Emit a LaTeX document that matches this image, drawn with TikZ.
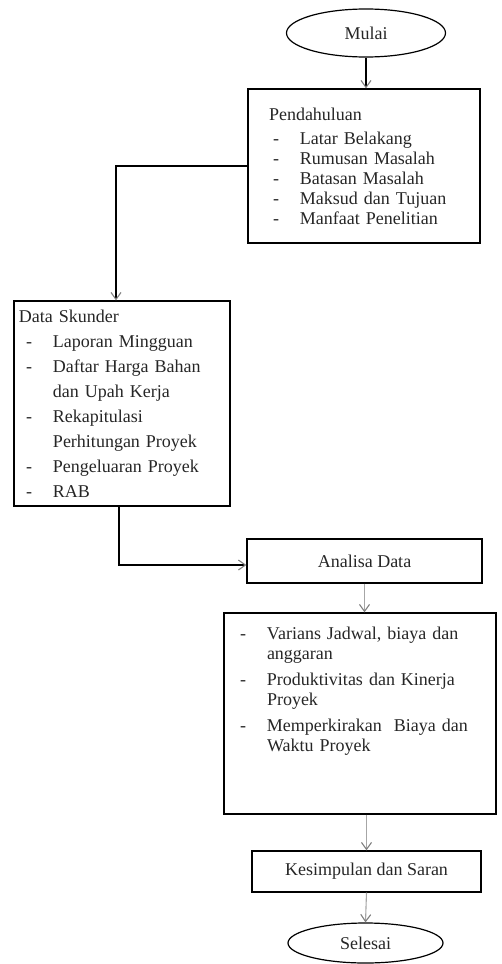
\documentclass[tikz,border=0pt]{standalone}
\usepackage{fontspec}
\setmainfont{Liberation Serif}
\usetikzlibrary{arrows.meta,shapes.geometric}
\newcommand{\butir}[2][0pt]{\hspace*{#1}\makebox[27pt][l]{-}#2}
\newcommand{\lanjut}[2][0pt]{\hspace*{\dimexpr#1+27pt\relax}#2}

\begin{document}
\begin{tikzpicture}[x=1pt,y=-1pt,
font=\fontsize{18}{20}\selectfont,
terminal/.style={ellipse,draw,line width=1.2pt,inner sep=0pt,text=black!85},
kotak/.style={draw,line width=1.3pt,inner sep=0pt,text=black!85},
daftar/.style={kotak,align=left,inner xsep=#1},
alur/.style={-{Straight Barb[length=7pt,width=10pt,color=gray]},line width=1.1pt},
alurtipis/.style={alur,draw=gray!70}
]
\useasboundingbox (0,0) rectangle (502,964);

\node[terminal,minimum width=159pt,minimum height=48pt] (mulai) at (366,33) {Mulai};
\node[daftar=21pt,text width=190pt,minimum height=154pt] (pendahuluan) at (364,166)
{Pendahuluan\\[4pt] \butir[4pt]{Latar Belakang}\\ \butir[4pt]{Rumusan Masalah}\\
\butir[4pt]{Batasan Masalah}\\ \butir[4pt]{Maksud dan Tujuan}\\ \butir[4pt]{Manfaat Penelitian}};
\node[daftar=5pt,text width=206pt,minimum height=205pt,font=\fontsize{18}{25}\selectfont] (skunder) at (122,403.5)
{Data Skunder\\ \butir[7pt]{Laporan Mingguan}\\ \butir[7pt]{Daftar Harga Bahan}\\
\lanjut[7pt]{dan Upah Kerja}\\ \butir[7pt]{Rekapitulasi}\\ \lanjut[7pt]{Perhitungan Proyek}\\
\butir[7pt]{Pengeluaran Proyek}\\ \butir[7pt]{RAB}};
\node[kotak,minimum width=235pt,minimum height=44pt] (analisa) at (364.5,561) {Analisa Data};
\node[daftar=16pt,text width=240pt,minimum height=201pt] (hasil) at (360,713.5)
{\butir{Varians Jadwal, biaya dan}\\ \lanjut{anggaran}\\[6pt] \butir{Produktivitas dan Kinerja}\\
\lanjut{Proyek}\\[6pt] \butir{Memperkirakan\ \ Biaya dan}\\ \lanjut{Waktu Proyek}\\[29pt] \mbox{}};
\node[kotak,minimum width=229pt,minimum height=41pt] (kesimpulan) at (366.5,871.5) {Kesimpulan dan Saran};
\node[terminal,minimum width=155pt,minimum height=40pt] (selesai) at (365.5,943) {Selesai};

\draw[alur] (mulai) -- (mulai |- pendahuluan.north);
\draw[alur] (pendahuluan.west) -| ([xshift=-6pt]skunder.north);
\draw[alur] ([xshift=-3pt]skunder.south) |- ([yshift=-4pt]analisa.west);
\draw[alurtipis] (analisa.south) -- (analisa.south |- hasil.north);
\draw[alurtipis] (kesimpulan.north |- hasil.south) -- (kesimpulan.north);
\draw[alurtipis] (kesimpulan.south) -- (selesai.north);
\end{tikzpicture}
\end{document}
